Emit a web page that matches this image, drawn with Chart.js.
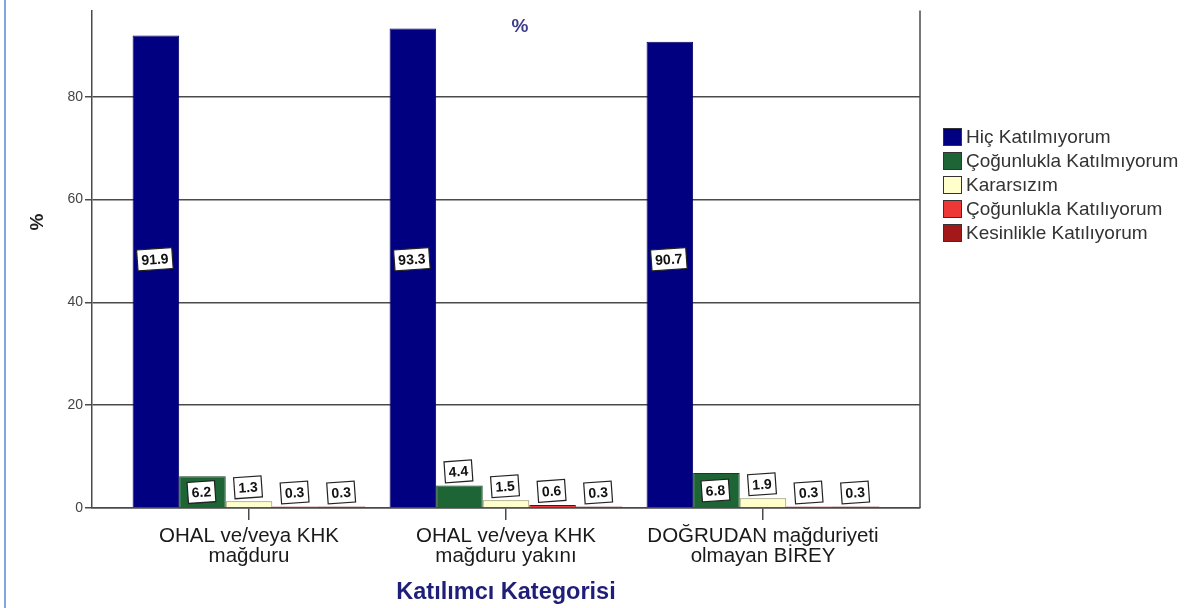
<!DOCTYPE html>
<html><head><meta charset="utf-8">
<script src="https://cdn.jsdelivr.net/npm/chart.js@4.4.1/dist/chart.umd.min.js"></script>
<style>html,body{margin:0;padding:0;background:#fff;}canvas{display:block;}</style>
</head><body>
<canvas id="c" width="1196" height="608"></canvas>
<script>
// ---- data ----
const categories = [
  ['OHAL ve/veya KHK', 'mağduru'],
  ['OHAL ve/veya KHK', 'mağduru yakını'],
  ['DOĞRUDAN mağduriyeti', 'olmayan BİREY']
];
const seriesNames = ['Hiç Katılmıyorum', 'Çoğunlukla Katılmıyorum', 'Kararsızım', 'Çoğunlukla Katılıyorum', 'Kesinlikle Katılıyorum'];
const hicKatilmiyorum = [91.9, 93.3, 90.7];
const cogunluklaKatilmiyorum = [6.2, 4.4, 6.8];
const kararsizim = [1.3, 1.5, 1.9];
const cogunluklaKatiliyorum = [0.3, 0.6, 0.3];
const kesinlikleKatiliyorum = [0.3, 0.3, 0.3];
const yTicks = [0, 20, 40, 60, 80];
const yMax = 96.8;
const xTitle = 'Katılımcı Kategorisi';
const yTitle = '%';
const topLabel = '%';

const seriesValues = [hicKatilmiyorum, cogunluklaKatilmiyorum, kararsizim, cogunluklaKatiliyorum, kesinlikleKatiliyorum];
const colors = ['#000080', '#1e6535', '#ffffcc', '#ee3838', '#a31818'];
const borders = ['#000066', '#123f20', '#8a8a5a', '#5a1010', '#2a0808'];
const FONT = '"Liberation Sans", Arial, sans-serif';
const axisColor = '#4a4a4a';

const datasets = seriesNames.map((name, i) => ({
  label: name,
  data: seriesValues[i].map((v, j) => ({ x: j, y: v })),
  backgroundColor: colors[i],
  borderColor: borders[i],
  borderWidth: 1,
  categoryPercentage: 0.906,
  barPercentage: 1
}));

const decor = {
  id: 'decor',
  beforeDraw(chart) {
    const ctx = chart.ctx;
    ctx.save();
    ctx.fillStyle = '#fff';
    ctx.fillRect(0, 0, chart.width, chart.height);
    ctx.restore();
  },
  afterDatasetsDraw(chart) {
    const ctx = chart.ctx;
    const ys = chart.scales.y;
    const base = ys.getPixelForValue(0);
    chart.data.datasets.forEach((ds, di) => {
      const meta = chart.getDatasetMeta(di);
      meta.data.forEach((bar, j) => {
        const v = ds.data[j].y;
        const h = base - bar.y;
        let cy;
        if (v > yMax / 2) cy = (ys.top + base) / 2;
        else if (h >= 26) cy = (bar.y + base) / 2;
        else cy = bar.y - 14;
        const txt = v.toFixed(1);
        ctx.save();
        ctx.translate(bar.x - 1, cy);
        ctx.rotate(-0.07);
        ctx.font = 'bold 14px ' + FONT;
        const w = ctx.measureText(txt).width + 8;
        const hh = 21;
        ctx.fillStyle = '#fff';
        ctx.fillRect(-w / 2, -hh / 2, w, hh);
        ctx.strokeStyle = '#222';
        ctx.lineWidth = 1.2;
        ctx.strokeRect(-w / 2, -hh / 2, w, hh);
        ctx.fillStyle = '#111';
        ctx.textAlign = 'center';
        ctx.textBaseline = 'middle';
        ctx.fillText(txt, 0, 1);
        ctx.restore();
      });
    });
  },
  afterDraw(chart) {
    const ctx = chart.ctx;
    const a = chart.chartArea;
    ctx.save();
    // right frame line
    ctx.strokeStyle = axisColor;
    ctx.lineWidth = 1.5;
    ctx.beginPath();
    ctx.moveTo(a.right, a.top);
    ctx.lineTo(a.right, a.bottom);
    ctx.stroke();
    // left page border
    ctx.fillStyle = '#7fa7df';
    ctx.fillRect(4, 0, 2, chart.height);
    // top label
    ctx.fillStyle = '#3e3e8c';
    ctx.font = 'bold 19px ' + FONT;
    ctx.textAlign = 'center';
    ctx.textBaseline = 'middle';
    ctx.fillText(topLabel, 520, 27);
    // y title
    ctx.save();
    ctx.translate(38, 222);
    ctx.rotate(-Math.PI / 2);
    ctx.fillStyle = '#222';
    ctx.font = 'bold 19px ' + FONT;
    ctx.fillText(yTitle, 0, 0);
    ctx.restore();
    // legend
    const lx = 943, ly0 = 137, step = 24;
    ctx.textAlign = 'left';
    seriesNames.forEach((n, i) => {
      const cy = ly0 + i * step;
      ctx.fillStyle = colors[i];
      ctx.fillRect(lx, cy - 9, 19, 18);
      ctx.strokeStyle = '#333';
      ctx.lineWidth = 1;
      ctx.strokeRect(lx + 0.5, cy - 8.5, 18, 17);
      ctx.fillStyle = '#333';
      ctx.font = '19px ' + FONT;
      ctx.fillText(n, 966, cy + 1);
    });
    ctx.restore();
  }
};

new Chart(document.getElementById('c'), {
  type: 'bar',
  data: { datasets },
  plugins: [decor],
  options: {
    responsive: false,
    animation: false,
    devicePixelRatio: 1,
    layout: { padding: { top: 7, right: 276, bottom: 0, left: 0 } },
    plugins: { legend: { display: false }, tooltip: { enabled: false } },
    scales: {
      x: {
        type: 'linear',
        min: -0.611,
        max: 2.611,
        offset: false,
        grid: { offset: false, drawOnChartArea: false, tickLength: 12, color: axisColor, lineWidth: 1.5 },
        border: { display: true, color: axisColor, width: 1.5 },
        afterBuildTicks: s => { s.ticks = categories.map((c, i) => ({ value: i })); },
        afterFit: s => { s.height = 100; },
        ticks: {
          autoSkip: false,
          maxRotation: 0,
          minRotation: 0,
          padding: 6,
          color: '#1a1a1a',
          font: { family: FONT, size: 20.5, lineHeight: 0.98 },
          callback: (v, i) => categories[i]
        },
        title: {
          display: true,
          text: xTitle,
          color: '#1f1f7a',
          font: { family: FONT, size: 23.5, weight: 'bold' },
          padding: { top: 0, bottom: 1 }
        }
      },
      y: {
        min: 0,
        max: yMax,
        grid: { color: axisColor, lineWidth: 1.5, tickLength: 7 },
        border: { display: true, color: axisColor, width: 1.5 },
        afterBuildTicks: s => { s.ticks = yTicks.map(v => ({ value: v })); },
        afterFit: s => { s.width = 92; },
        ticks: { color: '#444', padding: 2, font: { family: FONT, size: 14 } }
      }
    }
  }
});
</script>
</body></html>
